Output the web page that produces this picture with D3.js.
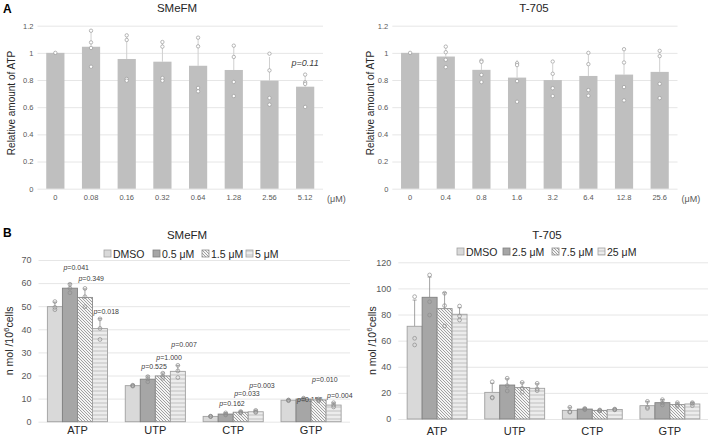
<!DOCTYPE html>
<html><head><meta charset="utf-8">
<script src="https://cdn.jsdelivr.net/npm/d3@7"></script>
<style>
body{margin:0;background:#fff;}
svg{display:block;font-family:"Liberation Sans",Arial,sans-serif;}
</style></head>
<body><svg id="c" width="708" height="438"></svg>
<script>
// ---------- Panel A data ----------
const concSMeFM = ["0","0.08","0.16","0.32","0.64","1.28","2.56","5.12"];
const meanSMeFM = [1.0, 1.045, 0.955, 0.935, 0.905, 0.874, 0.795, 0.751];
const sdSMeFM   = [0, 0.118, 0.175, 0.145, 0.205, 0.18, 0.175, 0.10];
const ptsSMeFM  = [[1.0],[1.163,1.077,1.036,0.898],[1.129,1.095,0.808,0.795],[1.08,1.046,0.815,0.795],
                   [1.112,1.048,0.742,0.717],[1.053,0.97,0.786,0.682],[0.994,0.871,0.668,0.619],[0.84,0.783,0.771,0.602]];
const concT705 = ["0","0.4","0.8","1.6","3.2","6.4","12.8","25.6"];
const meanT705 = [1.0, 0.973, 0.875, 0.818, 0.80, 0.83, 0.84, 0.86];
const sdT705   = [0, 0.073, 0.078, 0.13, 0.119, 0.155, 0.182, 0.162];
const ptsT705  = [[1.0],[1.046,1.005,0.949,0.895],[0.943,0.934,0.838,0.785],[0.924,0.91,0.792,0.64],
                  [0.936,0.846,0.74,0.682],[1.0,0.917,0.726,0.684],[1.027,0.929,0.748,0.65],[1.015,0.976,0.772,0.667]];
const ticksA = [0,0.2,0.4,0.6,0.8,1,1.2];

// ---------- Panel B data ----------
const nucleotides = ["ATP","UTP","CTP","GTP"];
const seriesSMeFM = ["DMSO","0.5 μM","1.5 μM","5 μM"];
const seriesT705  = ["DMSO","2.5 μM","7.5 μM","25 μM"];
// values[nucleotide][series]
const bMeanSMeFM = [[49.8,57.8,53.8,40.3],[15.6,18.4,19.8,21.8],[2.3,3.3,4.1,4.3],[9.3,9.8,9.4,7.2]];
const bSdSMeFM   = [[2.0,1.9,3.7,4.3],[0.3,1.4,1.3,2.6],[0.2,0.6,0.5,0.7],[0.3,0.5,0.5,1.0]];
const bPtsSMeFM  = [
  [[52,49.5,48.5],[59.5,57.8,55.8],[57.7,54.1,49.8],[44.5,40.4,35.6]],
  [[15.8,15.6,15.4],[19.5,18.5,17.3],[21,19.6,18.8],[24.4,22,19.1]],
  [[2.4,2.3,2.2],[3.8,3.2,2.9],[4.4,4.0,3.8],[4.9,4.3,4.0]],
  [[9.4,9.3,9.1],[10.2,9.8,9.5],[9.8,9.4,9.0],[8.2,7.2,6.4]]];
const pLabelsSMeFM = [
  ["","p=0.041","p=0.349","p=0.018"],["","p=0.525","p=1.000","p=0.007"],
  ["","p=0.162","p=0.033","p=0.003"],["","p=0.156","p=0.010","p=0.004"]];
const pLevelSMeFM = [[0,66.8,61.9,47.9],[0,24.1,28.0,33.5],[0,8.0,12.0,15.7],[0,9.8,18.1,11.4]];

const bMeanT705 = [[71.0,93.2,84.5,80.2],[20.4,26.0,24.0,23.5],[6.6,7.6,6.6,7.3],[10.2,12.5,11.0,11.5]];
const bSdT705   = [[20.1,15.5,12.2,5.0],[7.0,4.8,3.8,3.5],[2.4,0.8,0.4,0.5],[3.3,2.4,1.4,1.2]];
const bPtsT705  = [
  [[93.7,61.8,56.7],[110.3,89.8,79.6],[96.3,86.8,71.2],[86.5,78.9,75.8]],
  [[28.5,16.6,16.1],[31.2,25.5,21.5],[28,23.5,20.5],[27.3,23,21.7]],
  [[9.0,5.6,5.2],[8.1,7.4,7.2],[6.9,6.5,6.3],[7.6,7.3,7.0]],
  [[13.5,9.0,8.1],[14.8,12.5,10.7],[12.5,11.0,9.8],[12.5,11.8,10.2]]];
const ticksB1 = [0,10,20,30,40,50,60,70];
const ticksB2 = [0,20,40,60,80,100,120];

const svg = d3.select("#c");
const defs = svg.append("defs");
// hatch pattern (diagonal)
const ph = defs.append("pattern").attr("id","hatch").attr("patternUnits","userSpaceOnUse")
  .attr("width",3).attr("height",3);
ph.append("rect").attr("width",3).attr("height",3).attr("fill","#f4f4f4");
ph.append("path").attr("d","M-1,-1L4,4M-1,2L1,4M2,-1L4,1").attr("stroke","#8a8a8a").attr("stroke-width",0.8);
// horizontal stripes
const ps = defs.append("pattern").attr("id","hstripe").attr("patternUnits","userSpaceOnUse")
  .attr("width",4).attr("height",4);
ps.append("rect").attr("width",4).attr("height",4).attr("fill","#ececec");
ps.append("rect").attr("y",2).attr("width",4).attr("height",2).attr("fill","#d6d6d6");

const fills = ["#d9d9d9","#a6a6a6","url(#hatch)","url(#hstripe)"];
const strokes = ["#a0a0a0","#808080","#8a8a8a","#a0a0a0"];

const txtCol = "#595959";

// Panel letters
svg.append("text").attr("x",3).attr("y",13).attr("font-weight","bold").attr("font-size",12).attr("fill","#000").text("A");
svg.append("text").attr("x",3).attr("y",237).attr("font-weight","bold").attr("font-size",12).attr("fill","#000").text("B");

function panelA(cats, means, sds, pts, x0, x1, title, titleX, yTitleX) {
  const g = svg.append("g");
  const y = d3.scaleLinear().domain([0,1.2]).range([188.7,25.7]);
  const x = d3.scaleBand().domain(cats).range([x0,x1]).padding(0);
  const ax = g.append("g").attr("transform",`translate(${x0},0)`)
    .call(d3.axisLeft(y).tickValues(ticksA).tickSize(-(x1-x0)).tickPadding(4)
      .tickFormat(d=>d3.format("")(d)));
  ax.select(".domain").remove();
  ax.selectAll("line").attr("stroke","#e6e6e6").attr("stroke-width",1);
  ax.selectAll("text").attr("font-size",7.5).attr("fill",txtCol).attr("font-family","Liberation Sans, Arial");
  const bx = g.append("g").attr("transform","translate(0,188.7)")
    .call(d3.axisBottom(x).tickSize(0).tickPadding(6));
  bx.select(".domain").remove();
  bx.selectAll("text").attr("font-size",7.5).attr("fill",txtCol).attr("font-family","Liberation Sans, Arial");
  g.append("text").attr("x",x1+4).attr("y",202).attr("font-size",9).attr("fill",txtCol).text("(μM)");
  const bw = x.bandwidth()*0.51;
  const cx = c => x(c)+x.bandwidth()/2;
  g.selectAll(".err").data(cats).join("line")
    .attr("x1",cx).attr("x2",cx)
    .attr("y1",(c,i)=>y(means[i])).attr("y2",(c,i)=>y(means[i]+sds[i]))
    .attr("stroke","#cfcfcf").attr("stroke-width",1);
  g.selectAll(".bar").data(cats).join("rect")
    .attr("x",c=>cx(c)-bw/2).attr("width",bw)
    .attr("y",(c,i)=>y(means[i])).attr("height",(c,i)=>y(0)-y(means[i]))
    .attr("fill","#bfbfbf");
  cats.forEach((c,i)=>{
    g.selectAll(null).data(pts[i]).join("circle")
      .attr("cx",cx(c)).attr("cy",d=>y(d)).attr("r",1.7)
      .attr("fill","#fff").attr("stroke","#999").attr("stroke-width",0.7);
  });
  g.append("text").attr("x",titleX).attr("y",12).attr("text-anchor","middle")
    .attr("font-size",11.5).attr("fill","#262626").text(title);
  g.append("text").attr("transform",`translate(${yTitleX},103) rotate(-90)`)
    .attr("text-anchor","middle").attr("font-size",10).attr("fill","#262626").text("Relative amount of ATP");
  return {g,x,y,cx};
}

const a1 = panelA(concSMeFM, meanSMeFM, sdSMeFM, ptsSMeFM, 37.5, 323, "SMeFM", 177, 15);
a1.g.append("text").attr("x",a1.cx("5.12")).attr("y",a1.y(0.923)+3).attr("text-anchor","middle")
  .attr("font-size",9).attr("font-style","italic").attr("fill","#404040").text("p=0.11");
panelA(concT705, meanT705, sdT705, ptsT705, 392.3, 677.5, "T-705", 534, 374);

function panelB(series, means, sds, pts, x0, x1, yDomain, yRange, ticks, title, titleX, yTitleX, legendItemsX, legendY, pLabels, pLevels) {
  const g = svg.append("g");
  const y = d3.scaleLinear().domain(yDomain).range(yRange);
  const x = d3.scaleBand().domain(nucleotides).range([x0,x1]).padding(0);
  const gw = x.bandwidth()*0.772;
  const xs = d3.scaleBand().domain(series).range([0,gw]).padding(0);
  const ax = g.append("g").attr("transform",`translate(${x0},0)`)
    .call(d3.axisLeft(y).tickValues(ticks).tickSize(-(x1-x0)).tickPadding(7));
  ax.select(".domain").remove();
  ax.selectAll("line").attr("stroke","#e6e6e6");
  ax.selectAll("text").attr("font-size",9).attr("fill",txtCol).attr("font-family","Liberation Sans, Arial");
  const bx = g.append("g").attr("transform",`translate(0,${yRange[0]})`)
    .call(d3.axisBottom(x).tickSize(0).tickPadding(0));
  bx.select(".domain").remove();
  bx.selectAll("text").attr("dy",null).attr("y",434.5-yRange[0])
    .attr("font-size",11).attr("fill","#262626").attr("font-family","Liberation Sans, Arial");
  nucleotides.forEach((n,i)=>{
    const gx = x(n)+(x.bandwidth()-gw)/2;
    series.forEach((s,j)=>{
      const bxp = gx+xs(s), w = xs.bandwidth(), c = bxp+w/2;
      const m = means[i][j], top = m+sds[i][j];
      g.append("line").attr("x1",c).attr("x2",c).attr("y1",y(m)).attr("y2",y(top))
        .attr("stroke","#8c8c8c").attr("stroke-width",0.8);
      g.append("line").attr("x1",c-2).attr("x2",c+2).attr("y1",y(top)).attr("y2",y(top))
        .attr("stroke","#8c8c8c").attr("stroke-width",0.8);
      g.append("rect").attr("x",bxp).attr("width",w).attr("y",y(m)).attr("height",y(0)-y(m))
        .attr("fill",fills[j]).attr("stroke",strokes[j]).attr("stroke-width",0.9);
      g.selectAll(null).data(pts[i][j]).join("circle")
        .attr("cx",c).attr("cy",d=>y(d)).attr("r",1.9)
        .attr("fill","none").attr("stroke","#8c8c8c").attr("stroke-width",0.7);
      if (pLabels && pLabels[i][j]) {
        const t = g.append("text").attr("x",bxp+1).attr("y",y(pLevels[i][j])+2.5)
          .attr("font-size",7).attr("fill","#404040");
        t.append("tspan").attr("font-style","italic").text("p");
        t.append("tspan").text(pLabels[i][j].slice(1));
      }
    });
  });
  series.forEach((s,j)=>{
    const lx = legendItemsX[j];
    g.append("rect").attr("x",lx).attr("y",legendY-3.5).attr("width",7).attr("height",7)
      .attr("fill",fills[j]).attr("stroke",strokes[j]).attr("stroke-width",0.8);
    g.append("text").attr("x",lx+9).attr("y",legendY+4).attr("font-size",10.5).attr("fill","#262626").text(s);
  });
  g.append("text").attr("x",titleX).attr("y",239).attr("text-anchor","middle")
    .attr("font-size",11.5).attr("fill","#262626").text(title);
  const yt = g.append("text").attr("transform",`translate(${yTitleX},${(yRange[0]+yRange[1])/2}) rotate(-90)`)
    .attr("text-anchor","middle").attr("font-size",10.5).attr("fill","#262626");
  yt.append("tspan").text("n mol /10");
  yt.append("tspan").attr("dy",-4).attr("font-size",8).text("6");
  yt.append("tspan").attr("dy",4).text("cells");
}

panelB(seriesSMeFM, bMeanSMeFM, bSdSMeFM, bPtsSMeFM, 38.5, 350, [0,70], [421.7,260], ticksB1,
  "SMeFM", 187, 13, [104,153,202,246], 253.5, pLabelsSMeFM, pLevelSMeFM);
panelB(seriesT705, bMeanT705, bSdT705, bPtsT705, 398.3, 708.7, [0,120], [419,262.3], ticksB2,
  "T-705", 547, 376, [457,503,552,598], 251.5, null, null);
</script></body></html>
